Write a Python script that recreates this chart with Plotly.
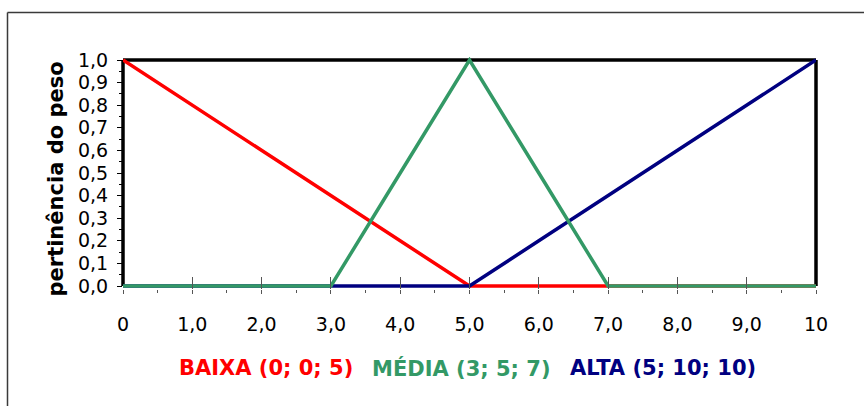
import plotly.graph_objects as go

x_vals = [0, 1, 2, 3, 4, 5, 6, 7, 8, 9, 10]
baixa = [1.0, 0.8, 0.6, 0.4, 0.2, 0.0, 0.0, 0.0, 0.0, 0.0, 0.0]
media = [0.0, 0.0, 0.0, 0.0, 0.5, 1.0, 0.5, 0.0, 0.0, 0.0, 0.0]
alta = [0.0, 0.0, 0.0, 0.0, 0.0, 0.0, 0.2, 0.4, 0.6, 0.8, 1.0]
x_ticktext = ["0", "1,0", "2,0", "3,0", "4,0", "5,0", "6,0", "7,0", "8,0", "9,0", "10"]
y_tickvals = [0.0, 0.1, 0.2, 0.3, 0.4, 0.5, 0.6, 0.7, 0.8, 0.9, 1.0]
y_ticktext = ["0,0", "0,1", "0,2", "0,3", "0,4", "0,5", "0,6", "0,7", "0,8", "0,9", "1,0"]
series_names = ["BAIXA (0; 0; 5)", "MÉDIA (3; 5; 7)", "ALTA (5; 10; 10)"]
y_title = "pertinência do peso"

RED = "#FF0000"
GREEN = "#339966"
NAVY = "#000080"
FONT = "DejaVu Sans"
LW = 3.5

fig = go.Figure()
fig.add_trace(go.Scatter(x=x_vals, y=baixa, mode="lines", name=series_names[0],
                         line=dict(color=RED, width=LW), showlegend=False))
fig.add_trace(go.Scatter(x=x_vals, y=alta, mode="lines", name=series_names[2],
                         line=dict(color=NAVY, width=LW), showlegend=False))
fig.add_trace(go.Scatter(x=x_vals, y=media, mode="lines", name=series_names[1],
                         line=dict(color=GREEN, width=LW), showlegend=False))

W, H = 864, 406
X0PX, X10PX = 123, 816      # pixel positions of x=0 and x=10
Y1PX, Y0PX = 60, 286        # pixel positions of y=1 and y=0
PADPX = 3                   # extra room so baseline lines aren't clipped
L = X0PX
R = W - X10PX
T = Y1PX - PADPX
B = H - (Y0PX + PADPX)
pw = W - L - R
ph = H - T - B
unit = 1.0 / (Y0PX - Y1PX)
y_range = [-PADPX * unit, 1 + PADPX * unit]

def px2paper_x(px):
    return (px - L) / pw

def px2paper_y(py):
    return (H - B - py) / ph

fig.update_layout(
    width=W, height=H, autosize=False,
    margin=dict(l=L, r=R, t=T, b=B, pad=0),
    paper_bgcolor="white", plot_bgcolor="white",
    font=dict(family=FONT, color="black", size=19),
    xaxis=dict(
        range=[0, 10], tickvals=x_vals, ticktext=x_ticktext,
        showgrid=False, zeroline=False, showline=False,
        ticks="outside", ticklen=4, tickwidth=1, tickcolor="#555555",
        ticklabelstandoff=14,
        tickfont=dict(family=FONT, size=19, color="black"),
        minor=dict(dtick=0.5, ticks="outside", ticklen=3, tickwidth=1, tickcolor="#555555", showgrid=False),
    ),
    xaxis2=dict(
        range=[0, 10], overlaying="x", anchor="y", side="bottom",
        tickvals=x_vals, showticklabels=False,
        showgrid=False, zeroline=False, showline=False,
        ticks="inside", ticklen=12, tickwidth=1, tickcolor="#555555",
    ),
    yaxis=dict(
        range=y_range, tickvals=y_tickvals, ticktext=y_ticktext,
        showgrid=False, zeroline=False, showline=False,
        ticks="outside", ticklen=5, tickwidth=1, tickcolor="black",
        ticklabelstandoff=5,
        tickfont=dict(family=FONT, size=19, color="black"),
        minor=dict(dtick=0.05, ticks="outside", ticklen=3, tickwidth=1, tickcolor="black", showgrid=False),
    ),
)

# invisible trace to activate xaxis2 (inner half of crossing ticks)
fig.add_trace(go.Scatter(x=[0], y=[0], xaxis="x2", yaxis="y", mode="markers",
                         marker=dict(opacity=0), hoverinfo="skip", showlegend=False))

# plot frame: left, top, right (x in paper coords so the lines are not clipped)
FW = 3.5
fig.add_shape(type="line", xref="paper", yref="y", x0=0, y0=0, x1=0, y1=1,
              line=dict(color="black", width=FW), layer="below")
fig.add_shape(type="line", xref="paper", yref="y", x0=0, y0=1, x1=1, y1=1,
              line=dict(color="black", width=FW), layer="below")
fig.add_shape(type="line", xref="paper", yref="y", x0=1, y0=0, x1=1, y1=1,
              line=dict(color="black", width=FW), layer="below")

# outer chart border (left and top)
fig.add_shape(type="line", xref="paper", yref="paper",
              x0=px2paper_x(7.5), y0=px2paper_y(12.5), x1=px2paper_x(870), y1=px2paper_y(12.5),
              line=dict(color="#3a3a3a", width=1.5))
fig.add_shape(type="line", xref="paper", yref="paper",
              x0=px2paper_x(7.5), y0=px2paper_y(12.5), x1=px2paper_x(7.5), y1=px2paper_y(412),
              line=dict(color="#3a3a3a", width=1.5))

# y-axis title
fig.add_annotation(text="<b>" + y_title + "</b>", xref="paper", yref="paper",
                   x=px2paper_x(55), y=px2paper_y(179.5), xanchor="center", yanchor="middle",
                   textangle=-90, showarrow=False,
                   font=dict(family=FONT, size=21, color="black"))

# legend as colored text
legend_colors = [RED, GREEN, NAVY]
legend_centers = [266, 461, 663]
for name, col, cx in zip(series_names, legend_colors, legend_centers):
    fig.add_annotation(text="<b>" + name + "</b>", xref="paper", yref="paper",
                       x=px2paper_x(cx), y=px2paper_y(368), xanchor="center", yanchor="middle",
                       showarrow=False, font=dict(family=FONT, size=21, color=col))

fig.write_html("out.html", config={"displayModeBar": False},
               post_script="document.body.style.margin='0';document.body.style.overflow='hidden';")
